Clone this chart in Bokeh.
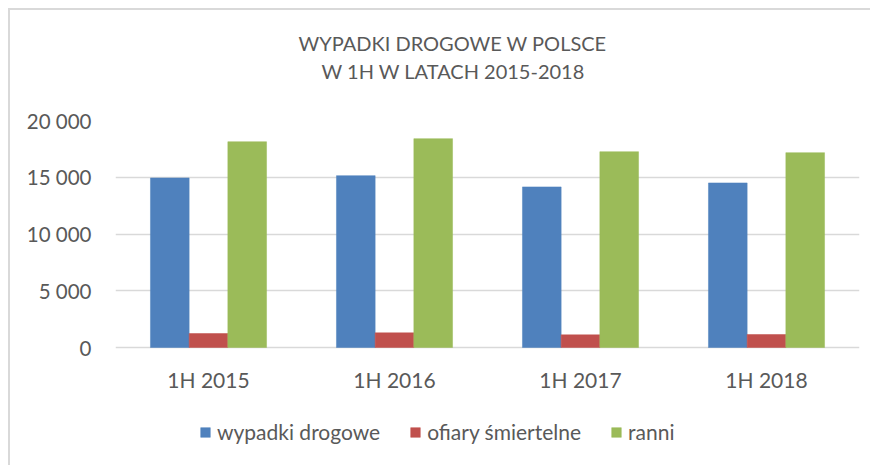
from bokeh.plotting import figure
from bokeh.models import (FactorRange, FixedTicker, Legend, LegendItem, Title,
                          ColumnDataSource)
from bokeh.core.properties import value
from bokeh.transform import dodge
from bokeh.embed import file_html
from bokeh.resources import INLINE

categories = ["1H 2015", "1H 2016", "1H 2017", "1H 2018"]
wypadki = [14940, 15140, 14150, 14500]
ofiary = [1230, 1290, 1115, 1145]
ranni = [18130, 18400, 17250, 17165]
series_names = ["wypadki drogowe", "ofiary śmiertelne", "ranni"]
y_ticks = [0, 5000, 10000, 15000, 20000]
y_tick_labels = ["0", "5 000", "10 000", "15 000", "20 000"]
title_lines = ["WYPADKI DROGOWE W POLSCE", "W 1H W LATACH 2015-2018"]

colors = ["#4f81bd", "#c0504d", "#9bbb59"]
FONT = "Lato"
TXT = "#595959"
GRID = "#d9d9d9"

# layout (page pixels); canvas origin at (10, 10): margin 8 + border 2
OX, OY = 10, 10
W, H = 860, 455
X_LEFT, X_RIGHT = 115, 859        # plot area horizontally
Y_TOP, Y_ZERO, Y_BOT = 120, 347, 455  # value 20000, value 0, bottom of drawing area
YMAX = 20000
per_px = YMAX / (Y_ZERO - Y_TOP)
y_start = -(Y_BOT - Y_ZERO) * per_px

FL, FT, FR, FB = X_LEFT - OX, Y_TOP - OY, X_RIGHT - OX, Y_BOT - OY
p = figure(frame_width=FR - FL, frame_height=FB - FT,
           x_range=FactorRange(*categories, range_padding=0),
           y_range=(y_start, YMAX), output_backend="svg", toolbar_location=None,
           min_border_left=FL, min_border_right=W - FR, min_border_top=FT,
           min_border_bottom=H - FB, margin=(8, 0, 0, 8),
           styles={"border-left": "2px solid #d9d9d9", "border-top": "2px solid #d9d9d9",
                   "box-sizing": "content-box"})
p.outline_line_color = None
p.background_fill_color = "white"
p.border_fill_color = "white"

src = ColumnDataSource(dict(cat=categories, a=wypadki, b=ofiary, c=ranni))
bw = 0.208
renderers = []
for col, off, c in zip(["a", "b", "c"], [-bw, 0, bw], colors):
    r = p.vbar(x=dodge("cat", off, range=p.x_range), top=col, width=bw, source=src,
               fill_color=c, line_color=c, line_width=0.5)
    renderers.append(r)

# y axis
p.yaxis.ticker = FixedTicker(ticks=y_ticks)
p.yaxis.major_label_overrides = {t: l for t, l in zip(y_ticks, y_tick_labels)}
p.yaxis.axis_line_color = None
p.yaxis.major_tick_line_color = None
p.yaxis.minor_tick_line_color = None
p.yaxis.major_tick_out = 0
p.yaxis.major_label_standoff = 24
p.yaxis.major_label_text_font = FONT
p.yaxis.major_label_text_font_size = "20.5px"
p.yaxis.major_label_text_color = TXT

# category axis: labels drawn under the zero line
p.xaxis.visible = False
label_y = -(379 - Y_ZERO) * per_px
p.text(x=categories, y=[label_y] * len(categories), text=categories,
       text_align="center", text_baseline="middle", text_font=value(FONT),
       text_font_size="21px", text_color=TXT)

p.xgrid.grid_line_color = None
p.ygrid.grid_line_color = GRID
p.ygrid.grid_line_width = 1.5

# title: spacer closest to the plot, then second line, then first line
p.add_layout(Title(text=" ", align="left", standoff=11,
                   text_font=FONT, text_font_size="20px", text_color="white"), "above")
p.add_layout(Title(text=title_lines[1], align="left", offset=206, standoff=2,
                   text_font=FONT, text_font_size="20px", text_color=TXT,
                   text_font_style="normal"), "above")
p.add_layout(Title(text=title_lines[0], align="left", offset=183, standoff=2,
                   text_font=FONT, text_font_size="20px", text_color=TXT,
                   text_font_style="normal"), "above")

# legend at the bottom of the drawing area
legend = Legend(items=[LegendItem(label=n, renderers=[r]) for n, r in zip(series_names, renderers)],
                orientation="horizontal", location=(199 - X_LEFT, 11),
                glyph_width=12, glyph_height=12, label_standoff=6, spacing=29,
                padding=0, margin=0, border_line_color=None, background_fill_alpha=0,
                label_text_font=FONT, label_text_font_size="21px", label_text_color=TXT)
p.add_layout(legend, "center")

open("out.html", "w").write(file_html(p, INLINE))
